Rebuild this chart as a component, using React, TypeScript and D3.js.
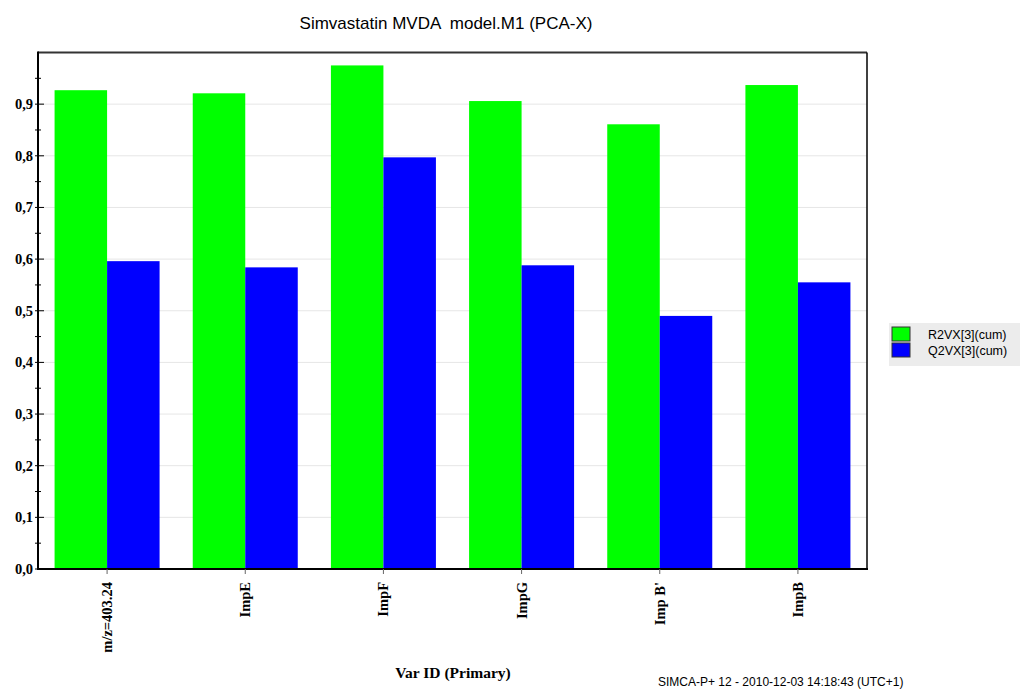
import React from "react";
import * as d3 from "d3";

const categories = ["m/z=403.24", "ImpE", "ImpF", "ImpG", "Imp B'", "ImpB"];
const seriesNames = ["R2VX[3](cum)", "Q2VX[3](cum)"];
const r2Values = [0.927, 0.921, 0.975, 0.906, 0.861, 0.937];
const q2Values = [0.596, 0.584, 0.797, 0.588, 0.49, 0.555];
const yTicks = [0, 0.1, 0.2, 0.3, 0.4, 0.5, 0.6, 0.7, 0.8, 0.9];
const yMinorTicks = [0.05, 0.15, 0.25, 0.35, 0.45, 0.55, 0.65, 0.75, 0.85, 0.95];
const colors = ["#00ff00", "#0000ff"];

export default function App() {
  const W = 1020, H = 690;
  const left = 38, right = 867, top = 52.5, bottom = 569;
  const x = d3.scaleBand<string>().domain(categories).range([left, right]).paddingInner(0.24).paddingOuter(0.12);
  const xs = d3.scaleBand<string>().domain(seriesNames).range([0, x.bandwidth()]);
  const y = d3.scaleLinear().domain([0, 1]).range([bottom, top]);
  const series = [r2Values, q2Values];
  const serif = "'Liberation Serif', 'Times New Roman', serif";
  const sans = "'Liberation Sans', Arial, sans-serif";
  return (
    <svg width={W} height={H} style={{ position: "absolute", left: 0, top: 0, background: "#fff" }}>
      <text x={446} y={29} textAnchor="middle" fontFamily={sans} fontSize={17} style={{ whiteSpace: "pre" }}>Simvastatin MVDA  model.M1 (PCA-X)</text>
      {yTicks.slice(1).map((t) => (
        <line key={"g" + t} x1={left} x2={right} y1={y(t)} y2={y(t)} stroke="#e6e6e6" strokeWidth={1} />
      ))}
      {series.map((vals, si) =>
        categories.map((c, i) => (
          <rect key={si + c} x={(x(c) as number) + (xs(seriesNames[si]) as number)} y={y(vals[i])}
            width={xs.bandwidth()} height={bottom - y(vals[i])} fill={colors[si]} />
        ))
      )}
      <line x1={left} x2={right} y1={top} y2={top} stroke="#333" strokeWidth={2} />
      <line x1={right} x2={right} y1={top} y2={bottom} stroke="#000" strokeWidth={1.5} />
      <line x1={left} x2={left} y1={top - 1} y2={bottom + 1} stroke="#000" strokeWidth={2} />
      <line x1={left - 1} x2={right + 1} y1={bottom} y2={bottom} stroke="#000" strokeWidth={2} />
      {yTicks.map((t) => (
        <g key={"t" + t}>
          <line x1={left - 3} x2={left + 6} y1={y(t)} y2={y(t)} stroke="#000" strokeWidth={1} />
          <text x={33} y={y(t) + 5} textAnchor="end" fontFamily={serif} fontWeight="bold" fontSize={14.5}>
            {t.toFixed(1).replace(".", ",")}
          </text>
        </g>
      ))}
      {yMinorTicks.map((t) => (
        <line key={"m" + t} x1={left - 3} x2={left + 3} y1={y(t)} y2={y(t)} stroke="#000" strokeWidth={1} />
      ))}
      {categories.map((c) => {
        const cx = (x(c) as number) + x.bandwidth() / 2;
        return (
          <g key={"x" + c}>
            <line x1={cx} x2={cx} y1={bottom} y2={bottom + 5} stroke="#666" strokeWidth={1} />
            <text transform={`translate(${cx + 5},${bottom + 13}) rotate(-90)`} textAnchor="end"
              fontFamily={serif} fontWeight="bold" fontSize={14.5}>{c}</text>
          </g>
        );
      })}
      <text x={453} y={678} textAnchor="middle" fontFamily={serif} fontWeight="bold" fontSize={15.5}>Var ID (Primary)</text>
      <rect x={889} y={323} width={131} height={43} fill="#ececec" />
      {seriesNames.map((s, i) => (
        <g key={"l" + s}>
          <rect x={892} y={327 + i * 16} width={18} height={14} fill={colors[i]} stroke="#333" strokeWidth={1} />
          <text x={928} y={339 + i * 16} fontFamily={sans} fontSize={12.5}>{s}</text>
        </g>
      ))}
      <text x={658} y={686} fontFamily={sans} fontSize={12}>SIMCA-P+ 12 - 2010-12-03 14:18:43 (UTC+1)</text>
    </svg>
  );
}
